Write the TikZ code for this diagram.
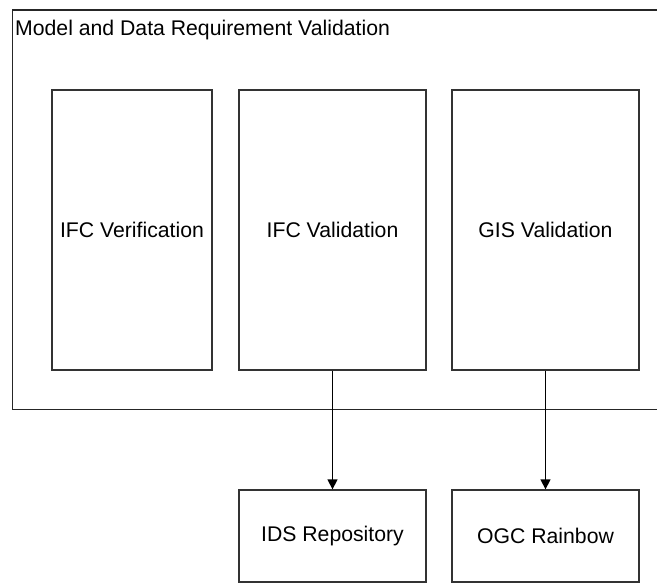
\documentclass[tikz,border=0pt]{standalone}
\usepackage{fontspec}
\setmainfont{Liberation Sans}
\usetikzlibrary{arrows.meta}
\begin{document}
\begin{tikzpicture}[x=1bp,y=-1bp,
  box/.style={draw=black!80,line width=1.3bp,fill=white,inner sep=0pt,
    font=\fontsize{21.3}{25}\selectfont},
  frame/.style={draw=black!85,line width=1.4bp},
  link/.style={draw=black,line width=1.3bp,-{Triangle[length=10bp,width=10bp]}}]
  \useasboundingbox (0,0) rectangle (657,583);
  \clip (0,0) rectangle (657,583);
  % outer container, running off the right edge
  \draw[frame] (700,10) -- (12.7,10) -- (12.7,409.5) -- (700,409.5);
  \node[anchor=base west,inner sep=0pt,font=\fontsize{21.3}{25}\selectfont]
    (title) at (15,36) {Model and Data Requirement Validation};
  % validation steps
  \node[box,minimum width=160bp,minimum height=280bp] (ver) at (132,230) {IFC Verification};
  \node[box,minimum width=187bp,minimum height=280bp] (ifc) at (332.5,230) {IFC Validation};
  \node[box,minimum width=187bp,minimum height=280bp] (gis) at (545.5,230) {GIS Validation};
  % targets, cut off at the bottom
  \node[box,minimum width=187bp,minimum height=92bp] (ids) at (332.5,536) {IDS Repository};
  \node[box,minimum width=187bp,minimum height=92bp] (ogc) at (545.5,536) {OGC Rainbow};
  \draw[link] (ifc.south) -- (ids.north);
  \draw[link] (gis.south) -- (ogc.north);
\end{tikzpicture}
\end{document}
